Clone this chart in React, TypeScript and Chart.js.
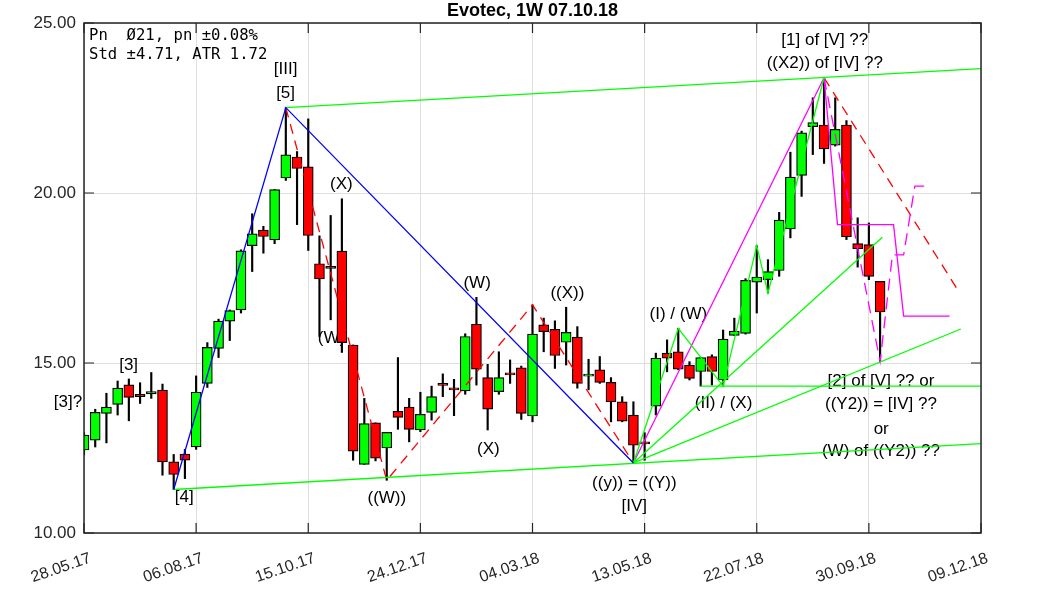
import React, { useEffect, useRef } from 'react';
import { Chart, registerables } from 'chart.js';

Chart.register(...registerables);

const chartTitle = 'Evotec, 1W 07.10.18';
const infoLines = ['Pn  Ø21, pn ±0.08%', 'Std ±4.71, ATR 1.72'];

// x axis: week index 0..80, labelled every 10 weeks
const xTickLabels = ['28.05.17', '06.08.17', '15.10.17', '24.12.17', '04.03.18', '13.05.18', '22.07.18', '30.09.18', '09.12.18'];
const yTicks = [10, 15, 20, 25];

// weekly candles (week index = array index)
const opens = [12.44, 12.73, 13.52, 13.78, 14.36, 14.08, 14.09, 14.20, 12.09, 12.32,
  12.53, 14.40, 15.43, 16.23, 16.56, 18.45, 18.91, 18.62, 20.44, 21.06,
  20.77, 17.92, 17.82, 18.29, 15.53, 12.02, 13.24, 12.50, 13.58, 13.70,
  13.03, 13.55, 14.38, 14.27, 14.18, 16.14, 14.57, 14.16, 14.69, 14.86,
  13.44, 16.12, 15.99, 15.61, 15.76, 14.62, 14.80, 14.43, 13.86, 13.47,
  12.66, 13.73, 15.29, 15.33, 14.94, 14.75, 15.19, 14.50, 15.81, 15.87,
  17.38, 17.45, 17.72, 18.94, 20.52, 21.95, 22.00, 21.41, 22.00, 18.51,
  18.48, 17.40];
const highs = [12.95, 13.64, 14.11, 14.47, 14.53, 14.42, 14.72, 14.38, 12.31, 12.46,
  14.62, 15.60, 16.29, 16.56, 18.33, 19.39, 19.02, 20.10, 22.51, 21.22,
  22.18, 18.74, 19.34, 19.83, 15.53, 13.96, 13.24, 12.96, 15.16, 13.96,
  14.14, 14.32, 14.68, 14.52, 15.86, 16.93, 14.96, 15.33, 15.09, 14.91,
  16.71, 16.32, 16.24, 16.64, 16.07, 15.11, 15.19, 14.57, 14.01, 13.86,
  12.95, 15.29, 15.68, 16.02, 15.04, 15.16, 15.24, 15.97, 16.32, 17.48,
  18.45, 18.04, 19.43, 21.20, 21.82, 22.80, 23.39, 22.80, 22.13, 19.27,
  19.12, 17.40];
const lows = [12.30, 12.53, 12.65, 13.47, 13.30, 13.81, 13.96, 11.70, 11.28, 11.60,
  12.46, 14.28, 15.16, 15.66, 16.47, 17.69, 18.23, 18.51, 20.37, 19.07,
  18.31, 15.78, 16.27, 15.31, 12.14, 12.02, 12.12, 11.55, 13.05, 12.68,
  12.98, 13.32, 14.01, 13.45, 14.08, 14.35, 13.03, 14.08, 14.40, 13.34,
  13.27, 15.33, 14.84, 14.94, 14.26, 14.21, 14.40, 13.27, 13.27, 12.06,
  12.14, 13.47, 14.74, 14.80, 14.50, 14.32, 14.35, 14.32, 15.81, 15.85,
  16.47, 17.06, 17.55, 18.68, 19.90, 21.13, 20.87, 21.38, 18.63, 17.82,
  17.45, 15.04];
const closes = [12.88, 13.55, 13.70, 14.26, 13.99, 14.01, 14.16, 12.09, 11.72, 12.14,
  14.14, 15.46, 16.23, 16.54, 18.30, 18.80, 18.72, 20.10, 21.12, 20.72,
  18.75, 17.47, 17.80, 15.60, 12.41, 13.22, 12.20, 12.96, 13.40, 13.05,
  13.49, 14.01, 14.36, 14.21, 15.78, 14.82, 13.64, 14.57, 14.67, 13.52,
  15.85, 15.92, 15.22, 15.90, 14.40, 14.67, 14.43, 13.86, 13.29, 12.58,
  12.64, 15.14, 15.14, 14.82, 14.55, 15.16, 14.75, 15.70, 15.94, 17.43,
  17.53, 17.69, 19.20, 20.47, 21.77, 22.07, 21.30, 21.87, 18.71, 18.36,
  17.55, 16.50];

// wave-count overlays (week index, price)
const blueWave = [{ x: 8, y: 11.28 }, { x: 18, y: 22.51 }, { x: 49, y: 12.06 }];
const greenLower = [{ x: 8, y: 11.28 }, { x: 80, y: 12.63 }];
const greenUpper = [{ x: 18, y: 22.51 }, { x: 80, y: 23.66 }];
const greenZigzag = [{ x: 49, y: 12.06 }, { x: 53, y: 16.02 }, { x: 57, y: 14.32 }, { x: 60, y: 18.45 }, { x: 61, y: 17.06 }, { x: 66, y: 23.39 }];
const greenFanA = [{ x: 49, y: 12.06 }, { x: 71.2, y: 18.7 }];
const greenFanB = [{ x: 49, y: 12.06 }, { x: 78.2, y: 16.0 }];
const greenFlat = [{ x: 55, y: 14.32 }, { x: 80, y: 14.32 }];
const magentaRise = [{ x: 49, y: 12.06 }, { x: 66, y: 23.39 }];
const magentaStep = [{ x: 66, y: 23.39 }, { x: 67.2, y: 19.07 }, { x: 72.2, y: 19.07 }, { x: 73.1, y: 16.38 }, { x: 77.2, y: 16.38 }];
const magentaDash = [{ x: 66, y: 23.39 }, { x: 71, y: 15.04 }, { x: 72.1, y: 18.18 }, { x: 73.1, y: 18.18 }, { x: 74.1, y: 20.2 }, { x: 75.1, y: 20.2 }];
const redDashA = [{ x: 18, y: 22.51 }, { x: 27, y: 11.55 }, { x: 40, y: 16.71 }, { x: 49, y: 12.06 }];
const redDashB = [{ x: 66, y: 23.39 }, { x: 78.1, y: 17.06 }];

const annotationTexts = ['[3]?', '[3]', '[4]', '[III]', '[5]', '(X)', '(W)', '((W))', '(W)', '(X)', '((X))',
  '((y)) = ((Y))', '[IV]', '(I) / (W)', '(II) / (X)', '[1] of [V] ??', '((X2)) of [IV] ??',
  '[2] of [V] ?? or', '((Y2)) = [IV] ??', 'or', '(W) of ((Y2)) ??'];
const annotationX = [-1.43, 3.98, 8.94, 17.98, 17.98, 22.96, 22.07, 27.01, 35.06, 36.07, 43.11,
  49.08, 49.08, 53.01, 57.04, 66.07, 66.07, 71.08, 71.08, 71.1, 71.08];
const annotationY = [13.85, 14.94, 11.06, 23.64, 22.93, 20.25, 15.73, 11.01, 17.35, 12.46, 17.06,
  11.47, 10.79, 16.42, 13.81, 24.50, 23.81, 14.45, 13.79, 13.06, 12.41];

const FONT = '"Liberation Sans", Arial, sans-serif';
const AXIS_COLOR = '#262626';
const GREEN = '#00ff00';

export default function App() {
  const ref = useRef<HTMLCanvasElement>(null);

  useEffect(() => {
    const canvas = ref.current;
    if (!canvas) return;
    const idx = opens.map((_, i) => i);
    const bodies = idx.map((i) => {
      const lo = Math.min(opens[i], closes[i]);
      const hi = Math.max(opens[i], closes[i]);
      const mid = (lo + hi) / 2;
      const half = Math.max((hi - lo) / 2, 0.03);
      return { x: i, y: [mid - half, mid + half] };
    });
    const bodyColors = idx.map((i) => (closes[i] >= opens[i] ? '#00ff00' : '#ff0000'));
    const wicks = idx.map((i) => ({ x: i, y: [lows[i], highs[i]] }));

    const line = (data: any[], color: string, dash: number[] = []) => ({
      type: 'line' as const,
      data,
      borderColor: color,
      borderWidth: 1.3,
      borderDash: dash,
      pointRadius: 0,
      fill: false,
      tension: 0,
      order: 0,
    });

    const overlay = {
      id: 'overlay',
      beforeDatasetsDraw(chart: any) {
        const { ctx, scales } = chart;
        ctx.save();
        ctx.fillStyle = '#000';
        ctx.font = `17px ${FONT}`;
        ctx.textAlign = 'center';
        ctx.textBaseline = 'middle';
        annotationTexts.forEach((t, k) => {
          ctx.fillText(t, scales.x.getPixelForValue(annotationX[k]), scales.y.getPixelForValue(annotationY[k]));
        });
        ctx.restore();
      },
      afterDraw(chart: any) {
        const { ctx, chartArea: a, scales } = chart;
        ctx.save();
        // inside tick marks
        ctx.strokeStyle = AXIS_COLOR;
        ctx.lineWidth = 1.2;
        ctx.beginPath();
        yTicks.forEach((v) => {
          const py = scales.y.getPixelForValue(v);
          ctx.moveTo(a.left, py); ctx.lineTo(a.left + 10, py);
          ctx.moveTo(a.right, py); ctx.lineTo(a.right - 10, py);
        });
        xTickLabels.forEach((_, k) => {
          const px = scales.x.getPixelForValue(k * 10);
          ctx.moveTo(px, a.bottom); ctx.lineTo(px, a.bottom - 10);
          ctx.moveTo(px, a.top); ctx.lineTo(px, a.top + 10);
        });
        ctx.stroke();
        // frame
        ctx.lineWidth = 1.5;
        ctx.strokeRect(a.left, a.top, a.right - a.left, a.bottom - a.top);
        // x labels
        ctx.fillStyle = AXIS_COLOR;
        ctx.font = `16px ${FONT}`;
        ctx.textAlign = 'right';
        ctx.textBaseline = 'alphabetic';
        xTickLabels.forEach((t, k) => {
          const px = scales.x.getPixelForValue(k * 10);
          ctx.save();
          ctx.translate(px + 8, a.bottom + 29);
          ctx.rotate((-19 * Math.PI) / 180);
          ctx.fillText(t, 0, 0);
          ctx.restore();
        });
        // title
        ctx.fillStyle = '#000';
        ctx.font = `bold 18px ${FONT}`;
        ctx.textAlign = 'center';
        ctx.fillText(chartTitle, (a.left + a.right) / 2, 16);
        // info text
        ctx.font = '15.6px "DejaVu Sans Mono", monospace';
        ctx.textAlign = 'left';
        infoLines.forEach((t, k) => ctx.fillText(t, a.left + 5, a.top + 17 + k * 19));
        ctx.restore();
      },
    };

    const chart = new Chart(canvas, {
      type: 'bar',
      data: {
        datasets: [
          line(blueWave, '#0000ff'),
          line(greenLower, GREEN),
          line(greenUpper, GREEN),
          line(greenZigzag, GREEN),
          line(greenFanA, GREEN),
          line(greenFanB, GREEN),
          line(greenFlat, GREEN),
          line(magentaRise, '#ff00ff'),
          line(magentaStep, '#ff00ff'),
          line(magentaDash, '#ff00ff', [12, 7]),
          line(redDashA, '#ff0000', [10, 7]),
          line(redDashB, '#ff0000', [10, 7]),
          {
            type: 'bar',
            data: bodies as any,
            backgroundColor: bodyColors,
            borderColor: '#000',
            borderWidth: 1.2,
            borderSkipped: false,
            barThickness: 10,
            grouped: false,
            order: 1,
          } as any,
          {
            type: 'bar',
            data: wicks as any,
            backgroundColor: '#000',
            borderWidth: 0,
            barThickness: 1.5,
            grouped: false,
            order: 2,
          } as any,
        ],
      },
      options: {
        animation: false,
        responsive: false,
        devicePixelRatio: 1,
        layout: { padding: { left: 0, right: 82, top: 23, bottom: 0 } },
        plugins: { legend: { display: false }, tooltip: { enabled: false }, title: { display: false } },
        scales: {
          x: {
            type: 'linear',
            min: 0,
            max: 80,
            offset: false,
            grid: { color: '#dfdfdf', lineWidth: 1, drawTicks: false, offset: false },
            border: { display: false },
            ticks: { stepSize: 10, display: false },
            afterFit: (s: any) => { s.height = 58; },
          },
          y: {
            type: 'linear',
            min: 10,
            max: 25,
            grid: { color: '#dfdfdf', lineWidth: 1, drawTicks: false },
            border: { display: false },
            ticks: {
              stepSize: 5,
              padding: 8,
              color: AXIS_COLOR,
              font: { family: FONT, size: 17 },
              callback: (v: any) => Number(v).toFixed(2),
            },
            afterFit: (s: any) => { s.width = 84; },
          },
        },
      } as any,
      plugins: [overlay],
    });
    return () => chart.destroy();
  }, []);

  return (
    <div style={{ position: 'fixed', left: 0, top: 0, width: 1063, height: 591, background: '#fff' }}>
      <canvas ref={ref} width={1063} height={591} style={{ width: 1063, height: 591, display: 'block' }} />
    </div>
  );
}
